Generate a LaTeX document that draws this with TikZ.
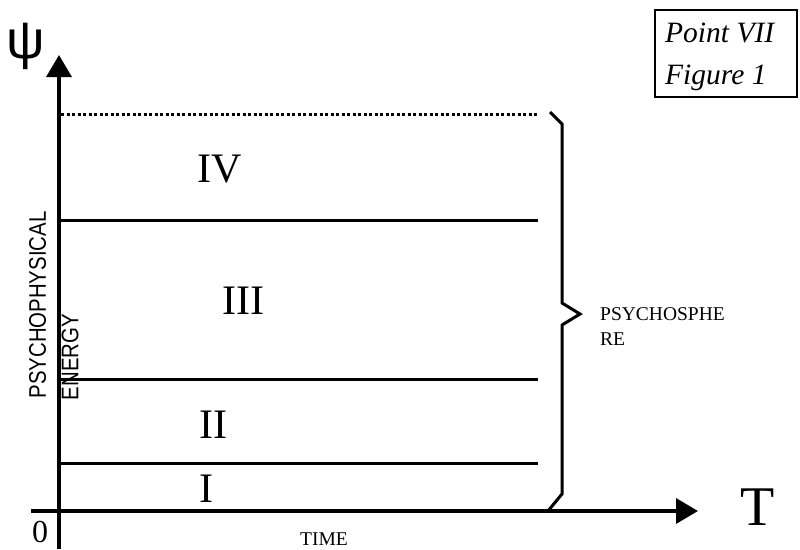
\documentclass[tikz,border=0pt]{standalone}
\usepackage{fontspec}
\setmainfont{Liberation Serif}
\setsansfont{Liberation Sans}
\newfontfamily\psifont{Liberation Sans}
\usetikzlibrary{arrows.meta}
\begin{document}
\begin{tikzpicture}[x=1pt,y=-1pt,
  axisline/.style={line width=3.5pt,-{Triangle[length=22pt,width=25pt]}},
  level/.style={line width=3pt},
  dotlevel/.style={line width=3pt,dash pattern=on 3pt off 2.5pt},
  numeral/.style={font=\fontsize{42}{44}\selectfont,inner sep=0pt,anchor=base west},
  small/.style={font=\fontsize{19.5}{25}\selectfont,inner sep=0pt,anchor=base west},
  vlabel/.style={font=\sffamily\fontsize{24}{26}\selectfont,inner sep=0pt,rotate=90},
  bracestyle/.style={line width=3pt},
  titletext/.style={inner sep=0pt,anchor=base west,font=\itshape\fontsize{29.5}{32}\selectfont}
]
\useasboundingbox (0,0) rectangle (800,549);
% axes
\coordinate (ybot) at (59,549);
\coordinate (ytop) at (59,55);
\coordinate (xleft) at (31,511);
\coordinate (xright) at (698,511);
\draw[axisline] (ybot) -- (ytop);
\draw[axisline] (xleft) -- (xright);
% levels
\coordinate (l0a) at (61,114); \coordinate (l0b) at (538,114);
\coordinate (l1a) at (59,220); \coordinate (l1b) at (538,220);
\coordinate (l2a) at (59,379); \coordinate (l2b) at (538,379);
\coordinate (l3a) at (59,463); \coordinate (l3b) at (538,463);
\draw[dotlevel] (l0a) -- (l0b);
\draw[level] (l1a) -- (l1b);
\draw[level] (l2a) -- (l2b);
\draw[level] (l3a) -- (l3b);
% numerals
\node[numeral] (n4) at (197,182) {IV};
\node[numeral] (n3) at (222,314) {III};
\node[numeral] (n2) at (199,438) {II};
\node[numeral] (n1) at (199,502) {I};
% axis labels
\node[inner sep=0pt,font=\psifont\fontsize{54}{56}\selectfont] (psi) at (26,46) {ψ};
\node[inner sep=0pt,anchor=base west,font=\fontsize{56}{58}\selectfont] (T) at (740,525) {T};
\node[inner sep=0pt,anchor=base west,font=\fontsize{32}{34}\selectfont] (zero) at (32,542) {0};
\node[small] (time) at (300,545) {TIME};
\node[vlabel] (psy) at (37.5,305) {\scalebox{0.85}[1]{PSYCHOPHYSICAL}};
\node[vlabel] (energy) at (70,357) {\scalebox{0.85}[1]{ENERGY}};
% brace
\coordinate (b1) at (550,112);
\coordinate (b2) at (562,124);
\coordinate (b3) at (562,303);
\coordinate (b4) at (580,314);
\coordinate (b5) at (562,325);
\coordinate (b6) at (562,494);
\coordinate (b7) at (548,511);
\draw[bracestyle] (b1) -- (b2) -- (b3) -- (b4) -- (b5) -- (b6) -- (b7);
\node[small] (sphere1) at (600,320) {PSYCHOSPHE};
\node[small] (sphere2) at (600,345) {RE};
% title box
\node[draw,line width=2pt,minimum width=142pt,minimum height=87pt,inner sep=0pt] (box) at (726,53.5) {};
\node[titletext] (t1) at (665,42) {Point VII};
\node[titletext] (t2) at (665,84) {Figure 1};
\end{tikzpicture}
\end{document}
